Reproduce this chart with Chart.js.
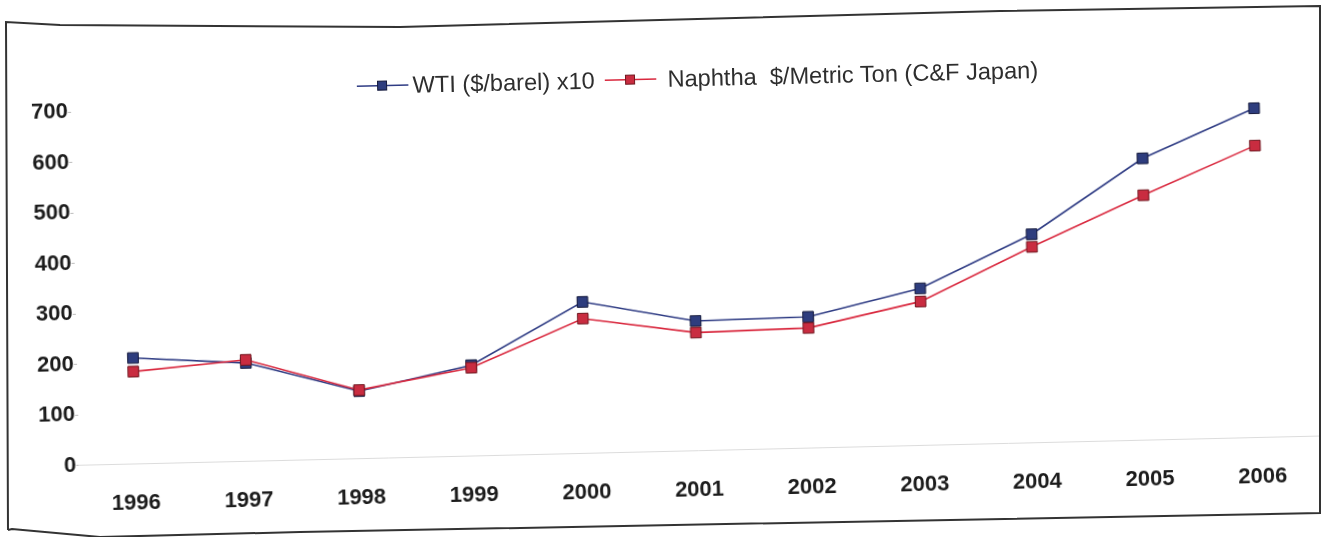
<!DOCTYPE html>
<html>
<head>
<meta charset="utf-8">
<script src="https://cdn.jsdelivr.net/npm/chart.js@4"></script>
<style>
  html, body { margin: 0; padding: 0; background: #fff; overflow: hidden; }
  #page { position: relative; width: 1323px; height: 537px; }
  #frame { position: absolute; left: 0; top: 0; }
  #sheet {
    position: absolute; left: 0; top: 0; width: 1323px; height: 537px;
    transform: rotate(-1.35deg); transform-origin: 661.5px 268.5px;
  }
  #myChart { position: absolute; left: 0; top: 0; }
  .legend-item {
    position: absolute; top: 66px; height: 26px; line-height: 26px;
    font-family: "Liberation Sans", Arial, sans-serif; font-size: 23.6px;
    color: #2e2e2e; white-space: pre;
  }
  .legend-mark { position: absolute; top: 72px; }
</style>
</head>
<body>
<div id="page">
  <div id="sheet">
    <canvas id="myChart" width="1323" height="537"></canvas>
    <div id="legend"></div>
  </div>
  <svg id="frame" width="1323" height="537">
    <polyline points="8,530 6,22 60,25 400,27 1000,11 1320,6 1320,513 300,532 100,537 12,529 8,530"
      fill="none" stroke="#333" stroke-width="2" />
  </svg>
</div>

<script>
const years = ["1996", "1997", "1998", "1999", "2000", "2001", "2002", "2003", "2004", "2005", "2006"];

// WTI ($/barel) x10
const wti = [210, 195, 134, 180, 300, 257, 260, 311, 413, 558, 652];
// Naphtha $/Metric Ton (C&F Japan)
const naphtha = [183, 201, 136, 175, 267, 234, 238, 285, 388, 485, 578];

const yTicks = [0, 100, 200, 300, 400, 500, 600, 700];

const seriesNames = ["WTI ($/barel) x10", "Naphtha  $/Metric Ton (C&F Japan)"];
const lineColors = ["#2f3c84", "#d9283e"];
const fillColors = ["#2e3d7e", "#c92c40"];
const edgeColors = ["#151a3c", "#701820"];

//------- legend (html) --------
const legendPos = [
  { mark: 361, text: 417 },
  { mark: 609, text: 672 }
];
const legend = document.getElementById("legend");
seriesNames.forEach((name, i) => {
  const mark = document.createElement("div");
  mark.className = "legend-mark";
  mark.style.left = legendPos[i].mark + "px";
  mark.innerHTML = `
    <svg width="52" height="14">
      <line x1="0" y1="7" x2="52" y2="7" stroke="${lineColors[i]}" stroke-width="1.5"/>
      <rect x="21" y="2.5" width="9" height="9" fill="${fillColors[i]}" stroke="${edgeColors[i]}" stroke-width="1"/>
    </svg>`;
  legend.appendChild(mark);

  const text = document.createElement("div");
  text.className = "legend-item";
  text.style.left = legendPos[i].text + "px";
  text.textContent = name;
  legend.appendChild(text);
});

//------- chart --------
const ctx = document.getElementById("myChart");
const tickFont = { family: "'Liberation Sans', Arial, sans-serif", size: 22, weight: "bold" };

new Chart(ctx, {
  type: "line",
  data: {
    labels: years,
    datasets: [
      {
        label: seriesNames[0],
        data: wti,
        borderColor: lineColors[0],
        backgroundColor: fillColors[0],
        pointBorderColor: edgeColors[0],
        borderWidth: 1.6,
        pointStyle: "rect",
        pointRadius: 7.5,
        pointBorderWidth: 1,
        tension: 0,
        order: 1
      },
      {
        label: seriesNames[1],
        data: naphtha,
        borderColor: lineColors[1],
        backgroundColor: fillColors[1],
        pointBorderColor: edgeColors[1],
        borderWidth: 1.6,
        pointStyle: "rect",
        pointRadius: 7.5,
        pointBorderWidth: 1,
        tension: 0,
        order: 0
      }
    ]
  },
  options: {
    responsive: false,
    animation: false,
    devicePixelRatio: 1,
    layout: { padding: { left: 35, right: 9, top: 98, bottom: 7 } },
    plugins: {
      legend: { display: false },
      tooltip: { enabled: false }
    },
    scales: {
      x: {
        offset: true,
        grid: { display: false, drawTicks: false },
        border: { display: true, color: "#dcdcdc", width: 1, dash: [8, 6] },
        ticks: { font: tickFont, color: "#1c1c1c", padding: 26, maxRotation: 0 }
      },
      y: {
        min: 0,
        max: 700,
        afterBuildTicks: (axis) => {
          axis.ticks = yTicks.map((v) => ({ value: v }));
        },
        grid: { drawOnChartArea: false, tickLength: 3, color: "#bdbdbd" },
        border: { display: false },
        ticks: { font: tickFont, color: "#1c1c1c", padding: 0 }
      }
    }
  }
});
</script>
</body>
</html>
